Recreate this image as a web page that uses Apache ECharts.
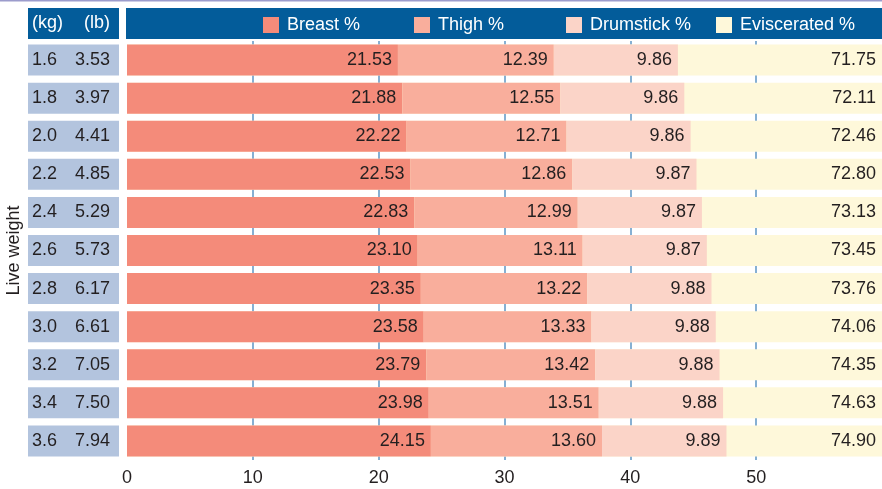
<!DOCTYPE html>
<html>
<head>
<meta charset="utf-8">
<script src="https://cdn.jsdelivr.net/npm/echarts@6/dist/echarts.min.js"></script>
<style>html,body{margin:0;padding:0;background:#fff}#c{width:882px;height:489px}</style>
</head>
<body>
<div id="c"></div>
<script>
const kg = ['1.6','1.8','2.0','2.2','2.4','2.6','2.8','3.0','3.2','3.4','3.6'];
const lb = ['3.53','3.97','4.41','4.85','5.29','5.73','6.17','6.61','7.05','7.50','7.94'];
const breast = [21.53,21.88,22.22,22.53,22.83,23.10,23.35,23.58,23.79,23.98,24.15];
const thigh = [12.39,12.55,12.71,12.86,12.99,13.11,13.22,13.33,13.42,13.51,13.60];
const drumstick = [9.86,9.86,9.86,9.87,9.87,9.87,9.88,9.88,9.88,9.88,9.89];
const eviscerated = [71.75,72.11,72.46,72.80,73.13,73.45,73.76,74.06,74.35,74.63,74.90];
const xTicks = [0,10,20,30,40,50,60];
const legendNames = ['Breast %','Thigh %','Drumstick %','Eviscerated %'];

const FONT = 'Liberation Sans, Arial, Helvetica, sans-serif';
const FS = 18;
const TXT = '#231f20';
const cats = kg.map((k,i)=>k+'|'+lb[i]);
const BAR_RATIO = 0.814;
const legendLeft = [263, 414, 566, 716];

const chart = echarts.init(document.getElementById('c'), null, {renderer:'canvas'});

const labelCfg = {
  show: true, position: 'insideRight', distance: 6,
  color: TXT, fontSize: FS, fontFamily: FONT,
  formatter: p => p.value.toFixed(2)
};

function barSeries(name, data, color) {
  return {
    name, type: 'bar', stack: 'total', data,
    barCategoryGap: '18.6%', z: 3,
    itemStyle: {color},
    label: labelCfg,
    emphasis: {disabled: true}
  };
}

chart.setOption({
  animation: false,
  textStyle: {fontFamily: FONT},
  grid: {left: 127, right: 0, top: 41, bottom: 29, containLabel: false, outerBoundsMode: 'none'},
  graphic: [
    {type:'rect', shape:{x:0,y:0,width:882,height:1.5}, style:{fill:'#9c9ccc'}, z:0},
    {type:'rect', shape:{x:28,y:8,width:91,height:31}, style:{fill:'#035c9a'}, z:0},
    {type:'rect', shape:{x:126,y:8,width:756,height:31}, style:{fill:'#035c9a'}, z:0},
    {type:'text', x:32, y:23.5, style:{text:'(kg)', fill:'#fff', font: FS+'px '+FONT, verticalAlign:'middle'}, z:1},
    {type:'text', x:110, y:23.5, style:{text:'(lb)', fill:'#fff', font: FS+'px '+FONT, align:'right', verticalAlign:'middle'}, z:1}
  ],
  legend: legendNames.map((n, i) => ({
    left: legendLeft[i], top: 16, padding: 0,
    itemWidth: 16, itemHeight: 16,
    icon: 'rect', selectedMode: false,
    data: [n],
    textStyle: {color:'#fff', fontSize: FS, fontFamily: FONT, padding:[0,0,0,3]}
  })),
  xAxis: {
    type: 'value', min: xTicks[0], max: xTicks[xTicks.length-1], interval: 10,
    axisLine: {show:false}, axisTick: {show:false},
    splitLine: {show:true, showMinLine:false, showMaxLine:false, lineStyle:{color:'#86b0d3', width:2}},
    axisLabel: {color: TXT, fontSize: FS, fontFamily: FONT, margin: 9, showMaxLabel: false,
      formatter: v => (v === xTicks[xTicks.length-1] ? '' : String(v))}
  },
  yAxis: {
    type: 'category', inverse: true, data: cats,
    axisLine: {show:false}, axisTick: {show:false},
    name: 'Live weight', nameLocation: 'middle', nameGap: 104, nameRotate: 90,
    nameMoveOverlap: false,
    nameTextStyle: {color: TXT, fontSize: FS, fontFamily: FONT},
    axisLabel: {
      margin: 8,
      formatter: v => { const [a,b] = v.split('|'); return '{k|'+a+'}{l|'+b+'}'; },
      backgroundColor: '#b3c4de',
      padding: [0, 9, 0, 4],
      lineHeight: 31, height: 31,
      rich: {
        k: {width: 38, align: 'left', color: TXT, fontSize: FS, fontFamily: FONT, lineHeight: 31},
        l: {width: 40, align: 'right', color: TXT, fontSize: FS, fontFamily: FONT, lineHeight: 31}
      }
    }
  },
  series: [
    {
      name: 'Eviscerated %', type: 'custom', z: 1,
      itemStyle: {color: '#fef8da'},
      data: eviscerated.map((v,i)=>[v,i]),
      encode: {x: 0, y: 1},
      renderItem: function(params, api) {
        const idx = api.value(1);
        const c = api.coord([0, idx]);
        const band = api.size([0, 1])[1];
        const h = band * BAR_RATIO;
        const cs = params.coordSys;
        return {
          type: 'group',
          children: [
            {type:'rect', shape:{x: cs.x, y: c[1]-h/2, width: cs.width, height: h},
             style:{fill: api.visual('color')}},
            {type:'text', x: cs.x + cs.width - 6, y: c[1],
             style:{text: api.value(0).toFixed(2), fill: TXT, font: FS+'px '+FONT,
                    align:'right', verticalAlign:'middle'}}
          ]
        };
      }
    },
    barSeries('Breast %', breast, '#f48b7a'),
    barSeries('Thigh %', thigh, '#f9ae9c'),
    barSeries('Drumstick %', drumstick, '#fbd4c8')
  ]
});
</script>
</body>
</html>
